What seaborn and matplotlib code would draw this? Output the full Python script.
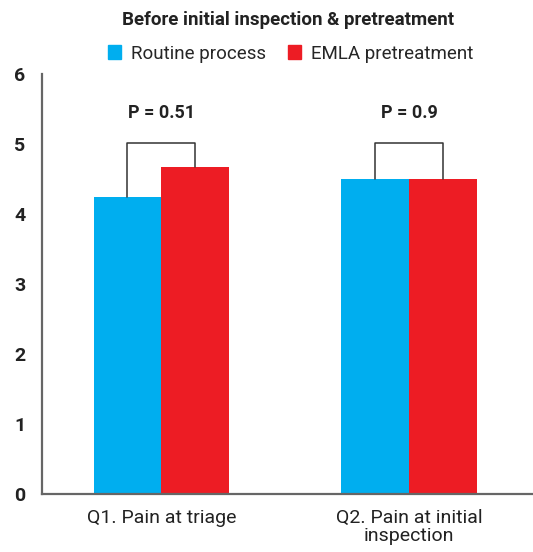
import pandas as pd
import seaborn as sns
import numpy as np
from matplotlib import pyplot as plt
from matplotlib.patches import Patch

# values
questions = ['Q1. Pain at triage', 'Q2. Pain at initial\ninspection']
groups = ['Routine process', 'EMLA pretreatment']
routine = [4.24, 4.5]
emla = [4.67, 4.5]
p_values = ['P = 0.51', 'P = 0.9']
colors = {'Routine process': '#00AEEF', 'EMLA pretreatment': '#ED1C24'}

df = pd.DataFrame({
    'question': questions * 2,
    'group': [groups[0]] * 2 + [groups[1]] * 2,
    'score': routine + emla,
})

sns.set_style("white")
plt.rcParams['font.family'] = ['Roboto', 'DejaVu Sans']

fig = plt.figure(figsize=(5.33, 5.52), dpi=100)
ax = fig.add_axes([0.0788, 0.105, 0.93, 0.761])

sns.barplot(data=df, x='question', y='score', hue='group', palette=colors,
            width=0.547, saturation=1, ax=ax, legend=False, linewidth=0)

ax.set_ylim(0, 6)
ax.set_xlim(-0.482, 1.52)
ax.set_yticks(range(7))
ax.set_xlabel('')
ax.set_ylabel('')
for s in ['top', 'right']:
    ax.spines[s].set_visible(False)
for s in ['left', 'bottom']:
    ax.spines[s].set_color('#666666')
    ax.spines[s].set_linewidth(1.6)
ax.tick_params(axis='y', direction='in', length=6, width=1.3, color='#666666',
               labelsize=14, pad=12)
ax.tick_params(axis='x', length=0, labelsize=14, pad=11)
for lab in ax.get_yticklabels():
    lab.set_fontweight('bold')
    lab.set_color('#222222')
for lab in ax.get_xticklabels():
    lab.set_color('#222222')
    lab.set_linespacing(1.0)

# significance brackets
half = 0.547 / 4
for i in range(2):
    x1, x2 = i - half, i + half
    ax.plot([x1, x1, x2, x2], [routine[i], 5.02, 5.02, emla[i]],
            color='#333333', lw=1.1)
    ax.text(i, 5.32, p_values[i], ha='center', va='bottom', fontsize=13,
            fontweight='bold', color='#222222')

fig.text(0.54, 0.963, 'Before initial inspection & pretreatment', ha='center',
         va='center', fontsize=13.5, fontweight='bold', color='#222222')
handles = [Patch(color=colors[g]) for g in groups]
fig.legend(handles, groups, loc='center', bbox_to_anchor=(0.545, 0.903), ncol=2,
           frameon=False, fontsize=13.5, handlelength=0.7, handleheight=0.7,
           handletextpad=0.5, columnspacing=1.2)

plt.savefig('out.png', dpi=100)
